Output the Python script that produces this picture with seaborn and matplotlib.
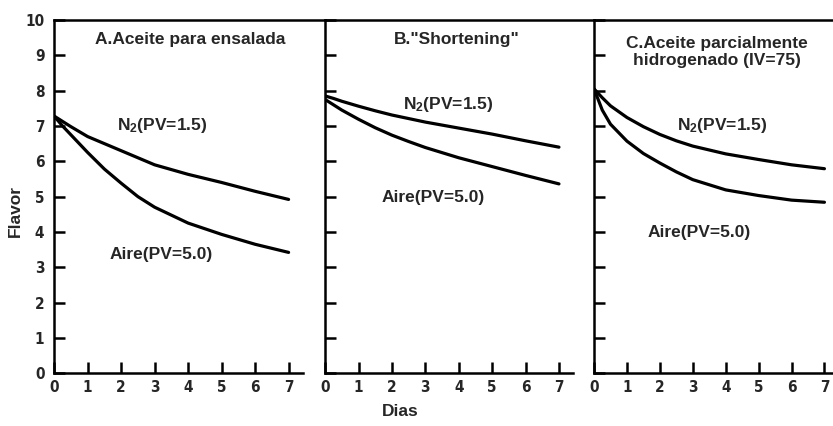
import numpy as np
import pandas as pd
import matplotlib
matplotlib.use("Agg")
import matplotlib.pyplot as plt
from matplotlib.font_manager import FontProperties
import seaborn as sns

# days (x) shared by all three panels
dias = [0, 0.25, 0.5, 1, 1.5, 2, 2.5, 3, 4, 5, 6, 7]

# A. salad oil
a_n2 = [7.28, 7.13, 6.98, 6.70, 6.50, 6.30, 6.10, 5.90, 5.63, 5.40, 5.15, 4.92]
a_aire = [7.28, 7.00, 6.75, 6.25, 5.78, 5.38, 5.00, 4.70, 4.25, 3.93, 3.65, 3.42]
# B. shortening
b_n2 = [7.85, 7.78, 7.70, 7.56, 7.43, 7.31, 7.21, 7.11, 6.94, 6.77, 6.58, 6.40]
b_aire = [7.75, 7.60, 7.45, 7.19, 6.95, 6.74, 6.56, 6.39, 6.10, 5.85, 5.60, 5.36]
# C. partially hydrogenated oil
c_n2 = [8.05, 7.80, 7.57, 7.24, 6.98, 6.76, 6.58, 6.43, 6.21, 6.05, 5.90, 5.79]
c_aire = [8.05, 7.45, 7.05, 6.57, 6.22, 5.95, 5.70, 5.48, 5.19, 5.03, 4.90, 4.84]

titulos = ["A.Aceite para ensalada", 'B."Shortening"',
           "C.Aceite parcialmente\nhidrogenado (IV=75)"]
lbl_n2 = r"N$_2$(PV=1.5)"
lbl_aire = "Aire(PV=5.0)"
x_ticks = [0, 1, 2, 3, 4, 5, 6, 7]
y_ticks = list(range(0, 11))

sns.set_style("ticks")
plt.rcParams["font.family"] = ["Liberation Sans", "DejaVu Sans"]
plt.rcParams["mathtext.fontset"] = "custom"
plt.rcParams["mathtext.rm"] = "Liberation Sans:bold"
plt.rcParams["mathtext.it"] = "Liberation Sans:bold"
plt.rcParams["mathtext.bf"] = "Liberation Sans:bold"

frames = []
for panel, n2, aire in [("A", a_n2, a_aire), ("B", b_n2, b_aire), ("C", c_n2, c_aire)]:
    frames.append(pd.DataFrame({"panel": panel, "dias": dias, "flavor": n2, "serie": "N2"}))
    frames.append(pd.DataFrame({"panel": panel, "dias": dias, "flavor": aire, "serie": "Aire"}))
df = pd.concat(frames, ignore_index=True)

fig = plt.figure(figsize=(8.33, 4.26), dpi=100)
gs = fig.add_gridspec(1, 3, width_ratios=[271, 269, 239], wspace=0,
                      left=0.065, right=1.0, top=0.953, bottom=0.124)
axes = [fig.add_subplot(gs[0, i]) for i in range(3)]

xlims = [8.09, 8.05, 7.26]
bottom_end = [7.43, 7.43, 7.26]
# label positions (data coords): title, n2 label, aire label
title_pos = [(4.06, 9.46), (3.95, 9.46), (3.74, 9.1)]
n2_pos = [(3.23, 7.0), (3.68, 7.6), (3.9, 7.0)]
aire_pos = [(3.2, 3.35), (3.24, 4.97), (3.2, 3.97)]

tick_font = FontProperties(family="DejaVu Sans", weight="bold", stretch="condensed", size=11)

for i, (ax, panel) in enumerate(zip(axes, ["A", "B", "C"])):
    sub = df[df["panel"] == panel]
    sns.lineplot(data=sub, x="dias", y="flavor", units="serie", estimator=None,
                 color="black", linewidth=2.3, ax=ax, legend=False)
    ax.set_xlim(0, xlims[i])
    ax.set_ylim(0, 10)
    ax.set_xlabel("")
    ax.set_ylabel("")
    ax.set_xticks(x_ticks)
    ax.set_yticks(y_ticks)
    ax.tick_params(direction="in", length=8, width=1.8, color="black", pad=5)
    ax.tick_params(axis="y", pad=7)
    for lab in ax.get_xticklabels() + ax.get_yticklabels():
        lab.set_fontproperties(tick_font)
    if i > 0:
        ax.set_yticklabels([])
    ax.spines["right"].set_visible(False)
    for s in ["left", "top", "bottom"]:
        ax.spines[s].set_linewidth(1.8)
        ax.spines[s].set_color("black")
    ax.spines["bottom"].set_bounds(0, bottom_end[i])
    ax.text(*title_pos[i], titulos[i], ha="center", va="center",
            fontsize=12.5, fontweight="bold", linespacing=1.2)
    ax.text(*n2_pos[i], lbl_n2, ha="center", va="center", fontsize=12.5, fontweight="bold")
    ax.text(*aire_pos[i], lbl_aire, ha="center", va="center", fontsize=12.5, fontweight="bold")

fig.text(0.018, 0.505, "Flavor", rotation=90, ha="center", va="center",
         fontsize=12.5, fontweight="bold")
fig.text(0.48, 0.033, "Dias", ha="center", va="center", fontsize=12.5, fontweight="bold")

fig.savefig("out.png", dpi=100)
